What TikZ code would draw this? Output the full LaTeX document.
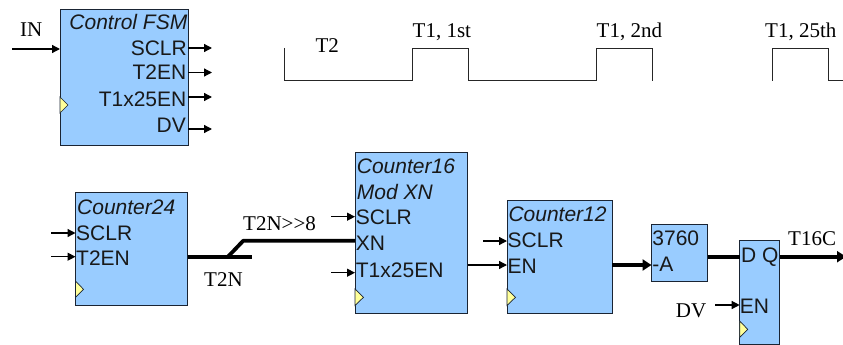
\documentclass[tikz,border=0pt]{standalone}
\usepackage{fontspec}
\setmainfont{Liberation Serif}
\newfontfamily\blockfont{Liberation Sans}
\usetikzlibrary{arrows.meta}
\definecolor{blockblue}{HTML}{99CCFF}
\definecolor{clockyellow}{HTML}{FFFF99}
\definecolor{blockedge}{HTML}{1A2433}
\tikzset{
  blk/.style={draw=blockedge,fill=blockblue,line width=0.9pt,inner sep=0pt,outer sep=0pt,anchor=north west},
  plab/.style={font=\blockfont\fontsize{21}{21}\selectfont,inner sep=0pt,anchor=base west,text=black!90},
  ilab/.style={font=\blockfont\itshape\fontsize{21}{21}\selectfont,inner sep=0pt,anchor=base west,text=black!90},
  rlab/.style={font=\fontsize{21}{21}\selectfont,inner sep=0pt,anchor=base west},
  sig/.style={draw=black,line width=1.3pt,-{Triangle[length=8pt,width=8pt]}},
  bus/.style={draw=black,line width=3.8pt},
  busarrow/.style={draw=black,line width=3.8pt,-{Triangle[length=9pt,width=11pt]}},
  wave/.style={draw=black!85,line width=1pt},
  clk/.style={draw=blockedge,fill=clockyellow,line width=0.7pt}
}
\begin{document}
\begin{tikzpicture}[x=1pt,y=-1pt]
\useasboundingbox (0,0) rectangle (843,345);
% blocks
\node[blk,minimum width=128pt,minimum height=136pt] (fsm) at (60,9) {};
\node[blk,minimum width=112pt,minimum height=113pt] (c24) at (75.5,192) {};
\node[blk,minimum width=112.5pt,minimum height=160.5pt] (c16) at (355,152.5) {};
\node[blk,minimum width=105pt,minimum height=112.5pt] (c12) at (507,200.5) {};
\node[blk,minimum width=56pt,minimum height=56.5pt] (sub) at (651.5,224.5) {};
\node[blk,minimum width=40pt,minimum height=104.5pt] (dff) at (739.7,240) {};
% clock triangles
\draw[clk] (60,97) -- (68,105) -- (60,113) -- cycle;
\draw[clk] (75.5,281) -- (83.5,289.3) -- (75.5,297.5) -- cycle;
\draw[clk] (355,289) -- (363.5,297.3) -- (355,305.5) -- cycle;
\draw[clk] (507,289) -- (515.5,297.3) -- (507,305.5) -- cycle;
\draw[clk] (739.7,321) -- (747.7,329.3) -- (739.7,337.5) -- cycle;
% block labels
\node[ilab,anchor=base east] (fsmT) at (187.5,30) {Control FSM};
\node[plab,anchor=base east] (fsmA) at (187,55.7) {SCLR};
\node[plab,anchor=base east] (fsmB) at (186.5,80) {T2EN};
\node[plab,anchor=base east] (fsmC) at (186.5,106.7) {T1x25EN};
\node[plab,anchor=base east] (fsmD) at (186,132.7) {DV};
\node[ilab] (c24T) at (77,214) {Counter24};
\node[plab] (c24A) at (76,240) {SCLR};
\node[plab] (c24B) at (76,265) {T2EN};
\node[ilab] (c16T) at (356.7,173.3) {Counter16};
\node[ilab] (c16M) at (356.7,199.3) {Mod XN};
\node[plab] (c16A) at (355.7,224.3) {SCLR};
\node[plab] (c16B) at (355.7,250.7) {XN};
\node[plab] (c16C) at (355.7,277) {T1x25EN};
\node[ilab] (c12T) at (508.3,221.7) {Counter12};
\node[plab] (c12A) at (507.5,247.3) {SCLR};
\node[plab] (c12B) at (507.5,273.3) {EN};
\node[plab] (subT) at (652.2,245.3) {3760};
\node[plab] (subA) at (652.2,271.7) {-A};
\node[plab] (dffA) at (741,262) {D Q};
\node[plab] (dffB) at (739.7,313.3) {EN};
% serif labels
\node[rlab] (inL) at (20,37) {IN};
\node[rlab,anchor=base] (t2L) at (327.3,52.7) {T2};
\node[rlab] (t1a) at (412.5,37.5) {T1, 1st};
\node[rlab] (t1b) at (596.5,37.5) {T1, 2nd};
\node[rlab] (t1c) at (765,37.5) {T1, 25th};
\node[rlab] (t2nL) at (204,286) {T2N};
\node[rlab] (t2nS) at (243,230.7) {T2N>{}>8};
\node[rlab] (dvL) at (675.7,317.7) {DV};
\node[rlab] (t16) at (788,245.7) {T16C};
% free ends
\coordinate (inS) at (12,49);
\coordinate (o1) at (212,48);
\coordinate (o2) at (212,72.5);
\coordinate (o3) at (212,97);
\coordinate (o4) at (212,129);
\coordinate (c24i1) at (51,233);
\coordinate (c24i2) at (51,256.7);
\coordinate (c24o) at (187.5,256.7);
\coordinate (c24end) at (251.7,256.7);
\coordinate (brA) at (228,256.7);
\coordinate (brB) at (243.3,240.7);
\coordinate (c16i1) at (331,216.7);
\coordinate (c16i3) at (331,272.7);
\coordinate (c12i1) at (483.3,241);
\coordinate (c16o) at (467.5,265);
\coordinate (c12o) at (612,265);
\coordinate (subo) at (707.5,256.7);
\coordinate (dffo) at (779.7,256.7);
\coordinate (outE) at (846,256.7);
\coordinate (dvS) at (715,305);
% connectors
\draw[sig] (inS) -- (inS -| fsm.west);
\draw[sig] (o1 -| fsm.east) -- (o1);
\draw[sig] (o2 -| fsm.east) -- (o2);
\draw[sig] (o3 -| fsm.east) -- (o3);
\draw[sig] (o4 -| fsm.east) -- (o4);
\draw[sig] (c24i1) -- (c24i1 -| c24.west);
\draw[sig] (c24i2) -- (c24i2 -| c24.west);
\draw[bus] (c24o) -- (c24end);
\draw[bus,line join=round] (brA) -- (brB) -- (brB -| c16.west);
\draw[sig] (c16i1) -- (c16i1 -| c16.west);
\draw[sig] (c16i3) -- (c16i3 -| c16.west);
\draw[sig] (c12i1) -- (c12i1 -| c12.west);
\draw[sig] (c16o) -- (c16o -| c12.west);
\draw[busarrow] (c12o) -- (c12o -| sub.west);
\draw[bus] (subo) -- (subo -| dff.west);
\draw[busarrow] (dffo) -- (outE);
\draw[sig] (dvS) -- (dvS -| dff.west);
% timing waveform
\draw[wave] (284,48) |- (412.3,80.7) |- (468.3,48.7) |- (596.3,80.7) |- (652.3,48.7) -- (652.3,80.7);
\draw[wave] (772.3,80.7) |- (828.3,48.7) |- (843,80.7);
\end{tikzpicture}
\end{document}
